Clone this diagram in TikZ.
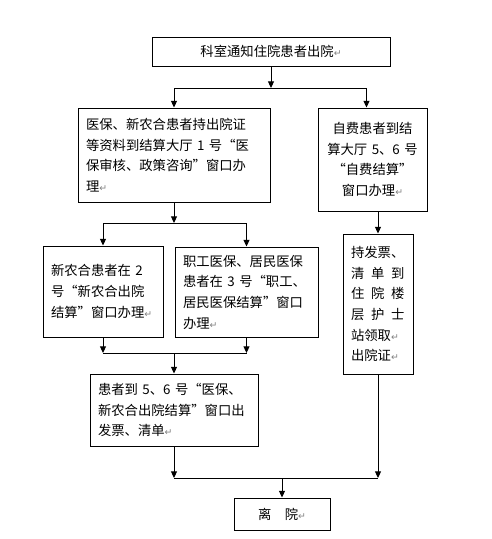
\documentclass[tikz,border=0pt]{standalone}
\usepackage{fontspec}
\setmainfont{Noto Sans CJK SC}
\newfontfamily\symfont{DejaVu Sans}
\usetikzlibrary{arrows.meta}
\newcommand{\retmark}{{\symfont\color{gray}\scriptsize ↵}}

\begin{document}
\begin{tikzpicture}[x=0.75pt, y=-0.75pt,
    box/.style={draw, line width=0.75pt, inner xsep=6pt, inner ysep=3pt,
        font=\fontsize{10}{15.5}\selectfont},
    arr/.style={-{Triangle[width=4.5pt,length=5pt]}, line width=0.75pt}]
\useasboundingbox (0,0) rectangle (492,539);

% Draw the boxes
\node[box, minimum width=178.5pt, minimum height=21.75pt] (notice) at (271,51.5)
    {科室通知住院患者出院\retmark};
\node[box, text width=132pt, minimum height=70.5pt, align=left] (medins) at (174,155)
    {医保、新农合患者持出院证\\等资料到结算大厅 1 号“医\\保审核、政策咨询”窗口办\\理\retmark};
\node[box, text width=69.75pt, minimum height=77.25pt, align=center] (selfpay) at (372.5,159.5)
    {自费患者到结\\算大厅 5、6 号\\“自费结算”\\窗口办理\retmark};
\node[box, text width=78pt, minimum height=68.25pt, align=left] (ncms) at (103,291.5)
    {新农合患者在 2\\号“新农合出院\\结算”窗口办理\retmark};
\node[box, text width=95.25pt, minimum height=67.5pt, align=left] (staff) at (246.5,292)
    {职工医保、居民医保\\患者在 3 号“职工、\\居民医保结算”窗口\\办理\retmark};
\node[box, text width=40.5pt, minimum height=105pt, align=left] (ward) at (378,304)
    {持发票、\\\makebox[4em][s]{清\hfil 单\hfil 到}\\\makebox[4em][s]{住\hfil 院\hfil 楼}\\
     \makebox[4em][s]{层\hfil 护\hfil 士}\\站领取\retmark\\出院证\retmark};
\node[box, text width=114pt, minimum height=54pt, align=left] (invoice) at (174,410)
    {患者到 5、6 号“医保、\\新农合出院结算”窗口出\\发票、清单\retmark};
\node[box, minimum width=72pt, minimum height=24pt] (leave) at (282,514)
    {离\hspace{1em}院\retmark};

% Draw the connectors
\coordinate (j1) at (271,88);
\draw[arr] (notice) -- (j1);
\draw[arr] (j1) -| (medins.north);
\draw[arr] (j1) -| ([xshift=-4.5pt]selfpay.north);

\coordinate (j2) at (174,223);
\draw[arr] (medins) -- (j2);
\draw[arr] (j2) -| (ncms.north);
\draw[arr] (j2) -| (staff.north);

\draw[arr] (selfpay.south -| ward.north) -- (ward.north);

\coordinate (j3) at (174,353);
\draw[arr] (ncms) -- (ncms |- j3);
\draw[arr] (staff) -- (staff |- j3);
\draw[line width=0.75pt] (ncms |- j3) -- (staff |- j3);
\draw[arr] (j3) -- (invoice);

\coordinate (j4) at (282,478);
\draw[arr] (invoice) -- (invoice |- j4);
\draw[arr] (ward) -- (ward |- j4);
\draw[line width=0.75pt] (invoice |- j4) -- (ward |- j4);
\draw[arr] (j4) -- (leave);

\end{tikzpicture}
\end{document}
